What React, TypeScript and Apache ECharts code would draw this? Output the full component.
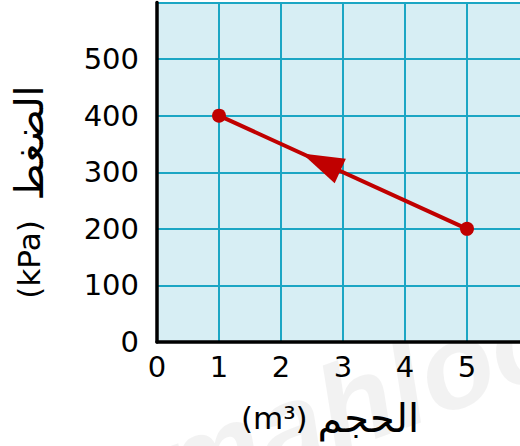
import React, { useEffect, useRef } from "react";
import * as echarts from "echarts";

const volume = [1, 5]; // m³
const pressure = [400, 200]; // kPa
const xTicks = [0, 1, 2, 3, 4, 5, 6];
const yTicks = [0, 100, 200, 300, 400, 500, 600];
const xUnit = "(m³)";
const xWord = "الحجم";
const yUnit = "(kPa)";
const yWord = "الضغط";
const watermark = "mahlool";

const RED = "#c00000";
const GRIDC = "#1ba6c4";
const FONT = "'DejaVu Sans', 'Liberation Sans', Arial, sans-serif";

export default function App() {
  const ref = useRef<HTMLDivElement>(null);
  useEffect(() => {
    document.body.style.margin = "0";
    if (!ref.current) return;
    const chart = echarts.init(ref.current, undefined, { renderer: "svg" });
    const points = volume.map((v, i) => [v, pressure[i]]);
    // arrow goes from the last point back to the first
    const arrowData = [[volume[1], pressure[1], volume[0], pressure[0]]];
    const lastX = xTicks[xTicks.length - 1];
    const lastY = yTicks[yTicks.length - 1];
    const nameRich = {
      u: { fontSize: 31, fontFamily: FONT, color: "#000" },
      w: { fontSize: 40, fontFamily: FONT, color: "#000" },
    };
    chart.setOption({
      animation: false,
      backgroundColor: "#ffffff",
      grid: {
        left: 157,
        top: 2.5,
        right: -9,
        bottom: 104,
        containLabel: false,
        outerBoundsMode: "none",
        show: true,
        backgroundColor: "#d7eef4",
        borderWidth: 0,
        z: 0,
      },
      graphic: [
        {
          type: "text",
          z: -10,
          x: 178,
          y: 530,
          rotation: (20 * Math.PI) / 180,
          style: {
            text: watermark,
            font: "italic bold 120px 'Liberation Sans', Arial, sans-serif",
            fill: "rgba(0,0,0,0.05)",
            textVerticalAlign: "bottom",
          },
        },
        {
          type: "text",
          z: 10,
          x: 330,
          y: 418,
          style: {
            text: `{u|${xUnit}} {w|${xWord}}`,
            rich: nameRich,
            fill: "#000",
            fontSize: 31,
            fontFamily: FONT,
            textAlign: "center",
            textVerticalAlign: "middle",
          },
        },
        {
          type: "text",
          z: 10,
          x: 29,
          y: 192,
          rotation: Math.PI / 2,
          style: {
            text: `{u|${yUnit}}  {w|${yWord}}`,
            rich: nameRich,
            fill: "#000",
            fontSize: 31,
            fontFamily: FONT,
            textAlign: "center",
            textVerticalAlign: "middle",
          },
        },
      ],
      xAxis: {
        type: "value",
        min: xTicks[0],
        max: lastX,
        interval: 1,
        axisLine: { show: true, onZero: false, lineStyle: { color: "#000", width: 3.5 } },
        axisTick: { show: false },
        splitLine: { show: true, lineStyle: { color: GRIDC, width: 2 } },
        axisLabel: {
          fontSize: 29,
          fontFamily: FONT,
          color: "#000",
          margin: 10,
          formatter: (v: number) => (v >= lastX ? "" : String(v)),
        },
        z: 5,
      },
      yAxis: {
        type: "value",
        min: yTicks[0],
        max: lastY,
        interval: 100,
        axisLine: { show: true, onZero: false, lineStyle: { color: "#000", width: 3.5 } },
        axisTick: { show: false },
        splitLine: { show: true, lineStyle: { color: GRIDC, width: 2 } },
        axisLabel: {
          fontSize: 29,
          fontFamily: FONT,
          color: "#000",
          margin: 18,
          formatter: (v: number) => (v >= lastY ? "" : String(v)),
        },
        z: 5,
      },
      series: [
        {
          type: "line",
          data: points,
          symbol: "circle",
          symbolSize: 14,
          lineStyle: { color: RED, width: 4 },
          itemStyle: { color: RED },
          z: 10,
        },
        {
          type: "custom",
          data: arrowData,
          z: 11,
          renderItem: (params: any, api: any) => {
            const p0 = api.coord([api.value(0), api.value(1)]);
            const p1 = api.coord([api.value(2), api.value(3)]);
            const dx = p1[0] - p0[0];
            const dy = p1[1] - p0[1];
            const len = Math.sqrt(dx * dx + dy * dy);
            const ux = dx / len;
            const uy = dy / len;
            const t = 0.665;
            const tip = [p0[0] + dx * t, p0[1] + dy * t];
            const L = 42;
            const W = 13.5;
            const bx = tip[0] - ux * L;
            const by = tip[1] - uy * L;
            const nx = -uy;
            const ny = ux;
            return {
              type: "polygon",
              shape: {
                points: [
                  tip,
                  [bx + nx * W, by + ny * W],
                  [bx - nx * W, by - ny * W],
                ],
              },
              style: { fill: RED },
            };
          },
        },
      ],
    });
    return () => chart.dispose();
  }, []);
  return <div ref={ref} style={{ width: 520, height: 446 }} />;
}
